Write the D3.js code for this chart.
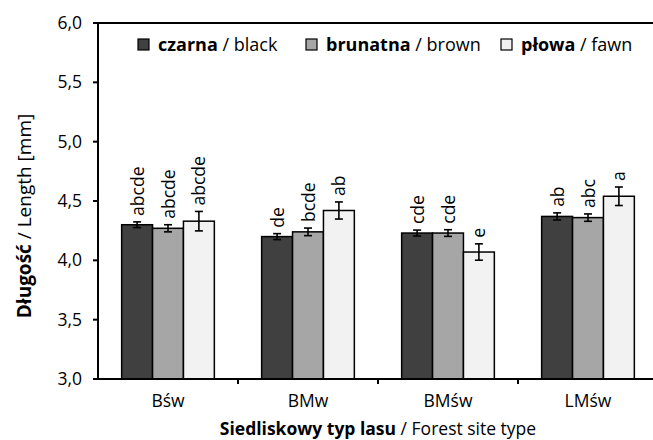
<!DOCTYPE html>
<html>
<head>
<meta charset="utf-8">
<script src="https://cdn.jsdelivr.net/npm/d3@7"></script>
<style>
  body { margin: 0; background: #fff; }
  text { font-family: "Open Sans", Lato, sans-serif; fill: #000; }
</style>
</head>
<body>
<svg id="chart"></svg>
<script>
// DATA
const siteTypes = ["Bśw", "BMw", "BMśw", "LMśw"];
const colourNames = [
  { pl: "czarna", en: "black" },
  { pl: "brunatna", en: "brown" },
  { pl: "płowa", en: "fawn" }
];
const meanBlack = [4.30, 4.20, 4.23, 4.37];
const meanBrown = [4.27, 4.24, 4.23, 4.36];
const meanFawn  = [4.33, 4.42, 4.07, 4.54];
const errBlack = [0.024, 0.025, 0.025, 0.030];
const errBrown = [0.030, 0.032, 0.028, 0.031];
const errFawn  = [0.082, 0.072, 0.069, 0.078];
const lettersBlack = ["abcde", "de", "cde", "ab"];
const lettersBrown = ["abcde", "bcde", "cde", "abc"];
const lettersFawn  = ["abcde", "ab", "e", "a"];
const yTicks = [3.0, 3.5, 4.0, 4.5, 5.0, 5.5, 6.0];

// SET VARIABLES
const width = 653, height = 440;
const margin = {left: 98, top: 23, bottom: 379};
const fills = ["#404040", "#a6a6a6", "#f2f2f2"];

const means = [meanBlack, meanBrown, meanFawn];
const errs = [errBlack, errBrown, errFawn];
const letters = [lettersBlack, lettersBrown, lettersFawn];

const svg = d3.select('#chart')
              .attr('width', width)
              .attr('height', height);

const x0 = d3.scaleBand()
             .domain(siteTypes)
             .range([margin.left, margin.left + 560])
             .paddingInner(0.338)
             .paddingOuter(0.169);
const x1 = d3.scaleBand()
             .domain([0, 1, 2])
             .range([0, x0.bandwidth()]);
const y = d3.scaleLinear()
            .domain([3, 6])
            .range([margin.bottom, margin.top]);

const rows = [];
siteTypes.forEach((s, i) => {
  [0, 1, 2].forEach(k => {
    rows.push({site: s, k: k, v: means[k][i], e: errs[k][i], lab: letters[k][i]});
  });
});

// BARS
const bars = svg.append('g');
bars.selectAll('rect')
    .data(rows)
    .enter()
    .append('rect')
      .attr('x', d => x0(d.site) + x1(d.k))
      .attr('y', d => y(d.v))
      .attr('width', x1.bandwidth())
      .attr('height', d => y(3) - y(d.v))
      .attr('fill', d => fills[d.k])
      .attr('stroke', '#000')
      .attr('stroke-width', 1.5);

// ERROR BARS
const eb = svg.append('g').attr('stroke', '#000').attr('stroke-width', 1.6);
rows.forEach(d => {
  const cx = x0(d.site) + x1(d.k) + x1.bandwidth() / 2;
  eb.append('line').attr('x1', cx).attr('x2', cx).attr('y1', y(d.v + d.e)).attr('y2', y(d.v - d.e));
  eb.append('line').attr('x1', cx - 4).attr('x2', cx + 4).attr('y1', y(d.v + d.e)).attr('y2', y(d.v + d.e));
  eb.append('line').attr('x1', cx - 4).attr('x2', cx + 4).attr('y1', y(d.v - d.e)).attr('y2', y(d.v - d.e));
});

// LETTERS
svg.append('g').selectAll('text')
   .data(rows)
   .enter()
   .append('text')
     .attr('transform', d => {
       const cx = x0(d.site) + x1(d.k) + x1.bandwidth() / 2;
       return `translate(${cx + 6.5}, ${y(d.v + d.e) - 6}) rotate(-90)`;
     })
     .attr('font-size', 17.5)
     .text(d => d.lab);

// AXES
const axes = svg.append('g').attr('stroke', '#000').attr('stroke-width', 2);
axes.append('line').attr('x1', margin.left).attr('x2', margin.left).attr('y1', y(6)).attr('y2', y(3));
axes.append('line').attr('x1', margin.left - 4).attr('x2', width).attr('y1', y(3)).attr('y2', y(3));
axes.append('line').attr('x1', margin.left - 5).attr('x2', width).attr('y1', y(6)).attr('y2', y(6));
yTicks.forEach(t => {
  axes.append('line').attr('x1', margin.left - 5).attr('x2', margin.left).attr('y1', y(t)).attr('y2', y(t));
});
const step = x0.step();
[1, 2, 3].forEach(i => {
  const xx = margin.left + i * step;
  axes.append('line').attr('x1', xx).attr('x2', xx).attr('y1', y(3)).attr('y2', y(3) + 5);
});

svg.append('g').selectAll('text')
   .data(yTicks)
   .enter()
   .append('text')
     .attr('x', margin.left - 16)
     .attr('y', d => y(d) + 6)
     .attr('text-anchor', 'end')
     .attr('font-size', 17.5)
     .text(d => d.toFixed(1).replace('.', ','));

svg.append('g').selectAll('text')
   .data(siteTypes)
   .enter()
   .append('text')
     .attr('x', d => x0(d) + x0.bandwidth() / 2)
     .attr('y', 407)
     .attr('text-anchor', 'middle')
     .attr('font-size', 17.5)
     .text(d => d);

// TITLES
const xt = svg.append('text')
              .attr('x', 378)
              .attr('y', 435)
              .attr('text-anchor', 'middle')
              .attr('font-size', 17.5);
xt.append('tspan').attr('font-weight', 'bold').text('Siedliskowy typ lasu');
xt.append('tspan').text(' / Forest site type');

const yt = svg.append('text')
              .attr('transform', 'translate(31, 216) rotate(-90)')
              .attr('text-anchor', 'middle')
              .attr('font-size', 19);
yt.append('tspan').attr('font-weight', 'bold').text('Długość');
yt.append('tspan').text(' / Length [mm]');

// LEGEND
const legX = [138, 306, 501];
const leg = svg.append('g').selectAll('g')
               .data(colourNames)
               .enter()
               .append('g')
                 .attr('transform', (d, i) => `translate(${legX[i]}, 39)`);
leg.append('rect')
   .attr('width', 11)
   .attr('height', 11)
   .attr('fill', (d, i) => fills[i])
   .attr('stroke', '#000')
   .attr('stroke-width', 1.2);
const lt = leg.append('text')
              .attr('x', 20)
              .attr('y', 12)
              .attr('font-size', 18);
lt.append('tspan').attr('font-weight', 'bold').text(d => d.pl);
lt.append('tspan').text(d => ' / ' + d.en);
</script>
</body>
</html>
